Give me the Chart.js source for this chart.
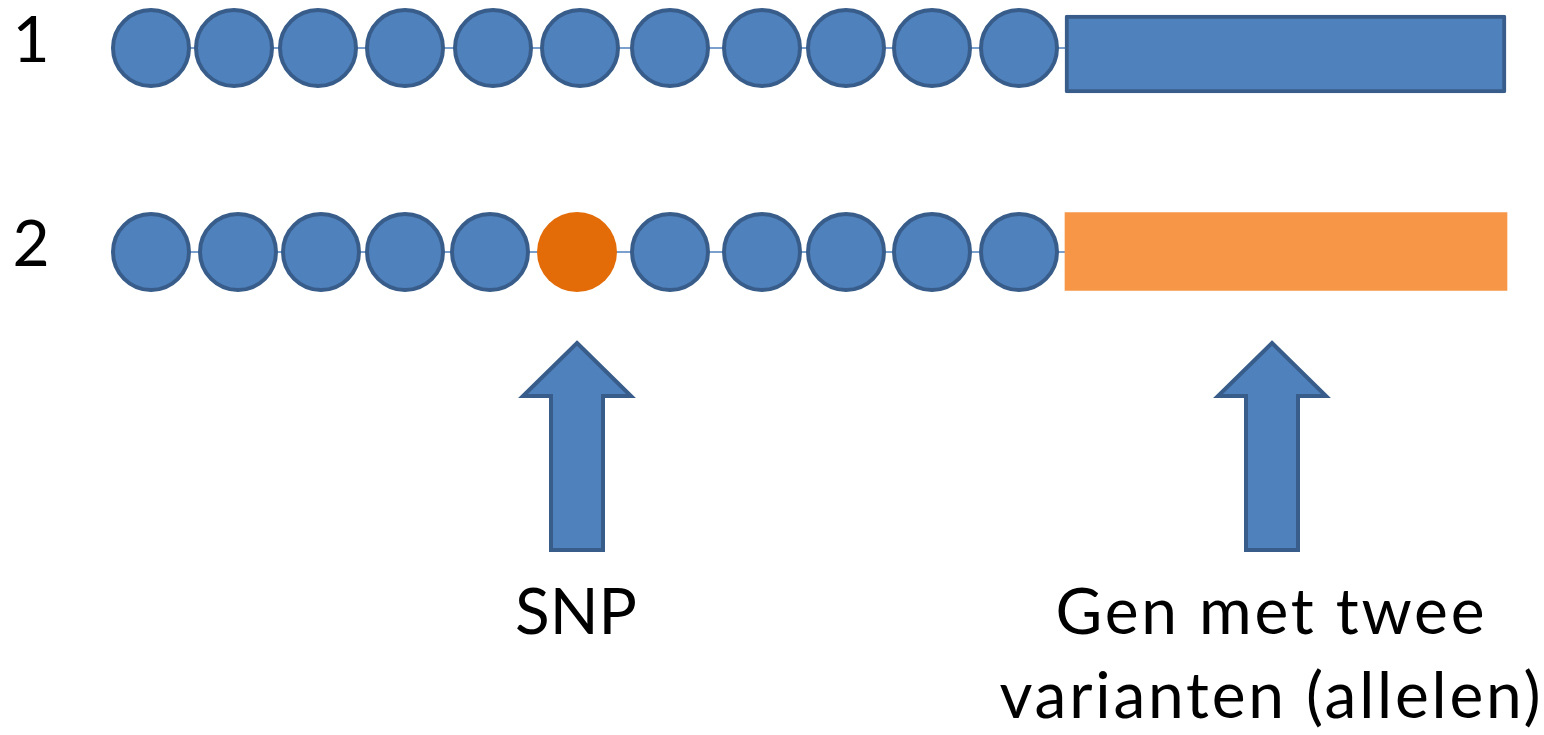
<!DOCTYPE html>
<html>
<head>
<meta charset="utf-8">
<script src="https://cdn.jsdelivr.net/npm/chart.js@4.4.1/dist/chart.umd.min.js"></script>
<style>
html,body{margin:0;padding:0;background:#fff;overflow:hidden;}
#wrap{width:1544px;height:735px;}
</style>
</head>
<body>
<div id="wrap"><canvas id="c" width="1544" height="735"></canvas></div>
<script>
// ---- data (canvas-like units: x to the right, y downward) ----
const rowLabels = ['1', '2'];
const rowY = [48, 252];
const beadX1 = [151, 234, 318, 405, 493, 580, 670, 762, 846, 932, 1019];
const beadX2 = [151, 238, 321, 405, 490, 577, 670, 762, 846, 932, 1019];
const snpIndex = 5;              // bead that differs in row 2
const geneStart = [1065, 1065];
const geneEnd = [1506, 1507];
const arrowX = [577, 1272];
const arrowTipY = 343;
const arrowHeadBaseY = 396;
const arrowBottomY = 550;
const arrowLabels = [['SNP'], ['Gen met twee', 'varianten (allelen)']];
const arrowLabelX = [576, 1270];
const labelBaselines = [634, 718];

// ---- styles ----
const BLUE = '#4F81BD', BLUE_DARK = '#385D8A', ORANGE_DARK = '#E36C09', ORANGE = '#F79646';
const FONT = '64px Lato, "Open Sans", sans-serif';
const labelSpacing = ['0px', '2.8px'];

function beadDataset(xs, y, hasSnp) {
  const data = xs.map(x => ({x: x, y: y}));
  data.push({x: geneStart[0], y: y}); // line continues to the gene
  const n = data.length;
  return {
    type: 'scatter',
    data: data,
    showLine: true,
    borderColor: BLUE,
    borderWidth: 1.5,
    pointRadius: data.map((d, i) => i === n - 1 ? 0 : (hasSnp && i === snpIndex ? 40 : 38)),
    pointBackgroundColor: data.map((d, i) => hasSnp && i === snpIndex ? ORANGE_DARK : BLUE),
    pointBorderColor: data.map((d, i) => hasSnp && i === snpIndex ? ORANGE_DARK : BLUE_DARK),
    pointBorderWidth: data.map((d, i) => hasSnp && i === snpIndex ? 0 : 4),
    pointHoverRadius: data.map((d, i) => i === n - 1 ? 0 : 38),
    order: 1
  };
}

const arrowsPlugin = {
  id: 'arrows',
  afterDatasetsDraw(chart) {
    const {ctx, scales: {x, y}} = chart;
    ctx.save();
    arrowX.forEach(ax => {
      const cx = x.getPixelForValue(ax);
      const tip = y.getPixelForValue(arrowTipY);
      const hb = y.getPixelForValue(arrowHeadBaseY);
      const bot = y.getPixelForValue(arrowBottomY);
      const hw = 54, sw = 26;
      ctx.beginPath();
      ctx.moveTo(cx, tip);
      ctx.lineTo(cx + hw, hb);
      ctx.lineTo(cx + sw, hb);
      ctx.lineTo(cx + sw, bot);
      ctx.lineTo(cx - sw, bot);
      ctx.lineTo(cx - sw, hb);
      ctx.lineTo(cx - hw, hb);
      ctx.closePath();
      ctx.fillStyle = BLUE;
      ctx.fill();
      ctx.lineWidth = 4;
      ctx.strokeStyle = BLUE_DARK;
      ctx.lineJoin = 'miter';
      ctx.stroke();
    });
    // texts
    ctx.fillStyle = '#000';
    ctx.font = FONT;
    ctx.textAlign = 'center';
    ctx.textBaseline = 'alphabetic';
    rowLabels.forEach((t, i) => {
      ctx.fillText(t, x.getPixelForValue(31), y.getPixelForValue(rowY[i] + 14));
    });
    arrowLabels.forEach((lines, i) => {
      ctx.letterSpacing = labelSpacing[i];
      const sp = parseFloat(labelSpacing[i]) / 2;
      lines.forEach((t, j) => {
        ctx.fillText(t, x.getPixelForValue(arrowLabelX[i]) + sp, y.getPixelForValue(labelBaselines[j]));
      });
    });
    ctx.restore();
  }
};

new Chart(document.getElementById('c'), {
  type: 'scatter',
  data: {
    datasets: [
      beadDataset(beadX1, rowY[0], false),
      beadDataset(beadX2, rowY[1], true),
      {
        type: 'bar',
        indexAxis: 'y',
        data: [
          {x: [geneStart[0], geneEnd[0]], y: 54},
          {x: [geneStart[1], geneEnd[1]], y: 251.5}
        ],
        backgroundColor: [BLUE, ORANGE],
        borderColor: [BLUE_DARK, ORANGE],
        borderWidth: [4, 0],
        borderSkipped: false,
        borderRadius: [2, 0],
        barThickness: 78,
        grouped: false,
        order: 0
      }
    ]
  },
  options: {
    responsive: false,
    animation: false,
    devicePixelRatio: 1,
    layout: {padding: 0, autoPadding: false},
    plugins: {legend: {display: false}, tooltip: {enabled: false}},
    events: [],
    scales: {
      x: {type: 'linear', min: 0, max: 1544, display: false, offset: false, grace: 0},
      y: {type: 'linear', min: 0, max: 735, reverse: true, display: false, offset: false, grace: 0}
    }
  },
  plugins: [arrowsPlugin]
});
</script>
</body>
</html>
